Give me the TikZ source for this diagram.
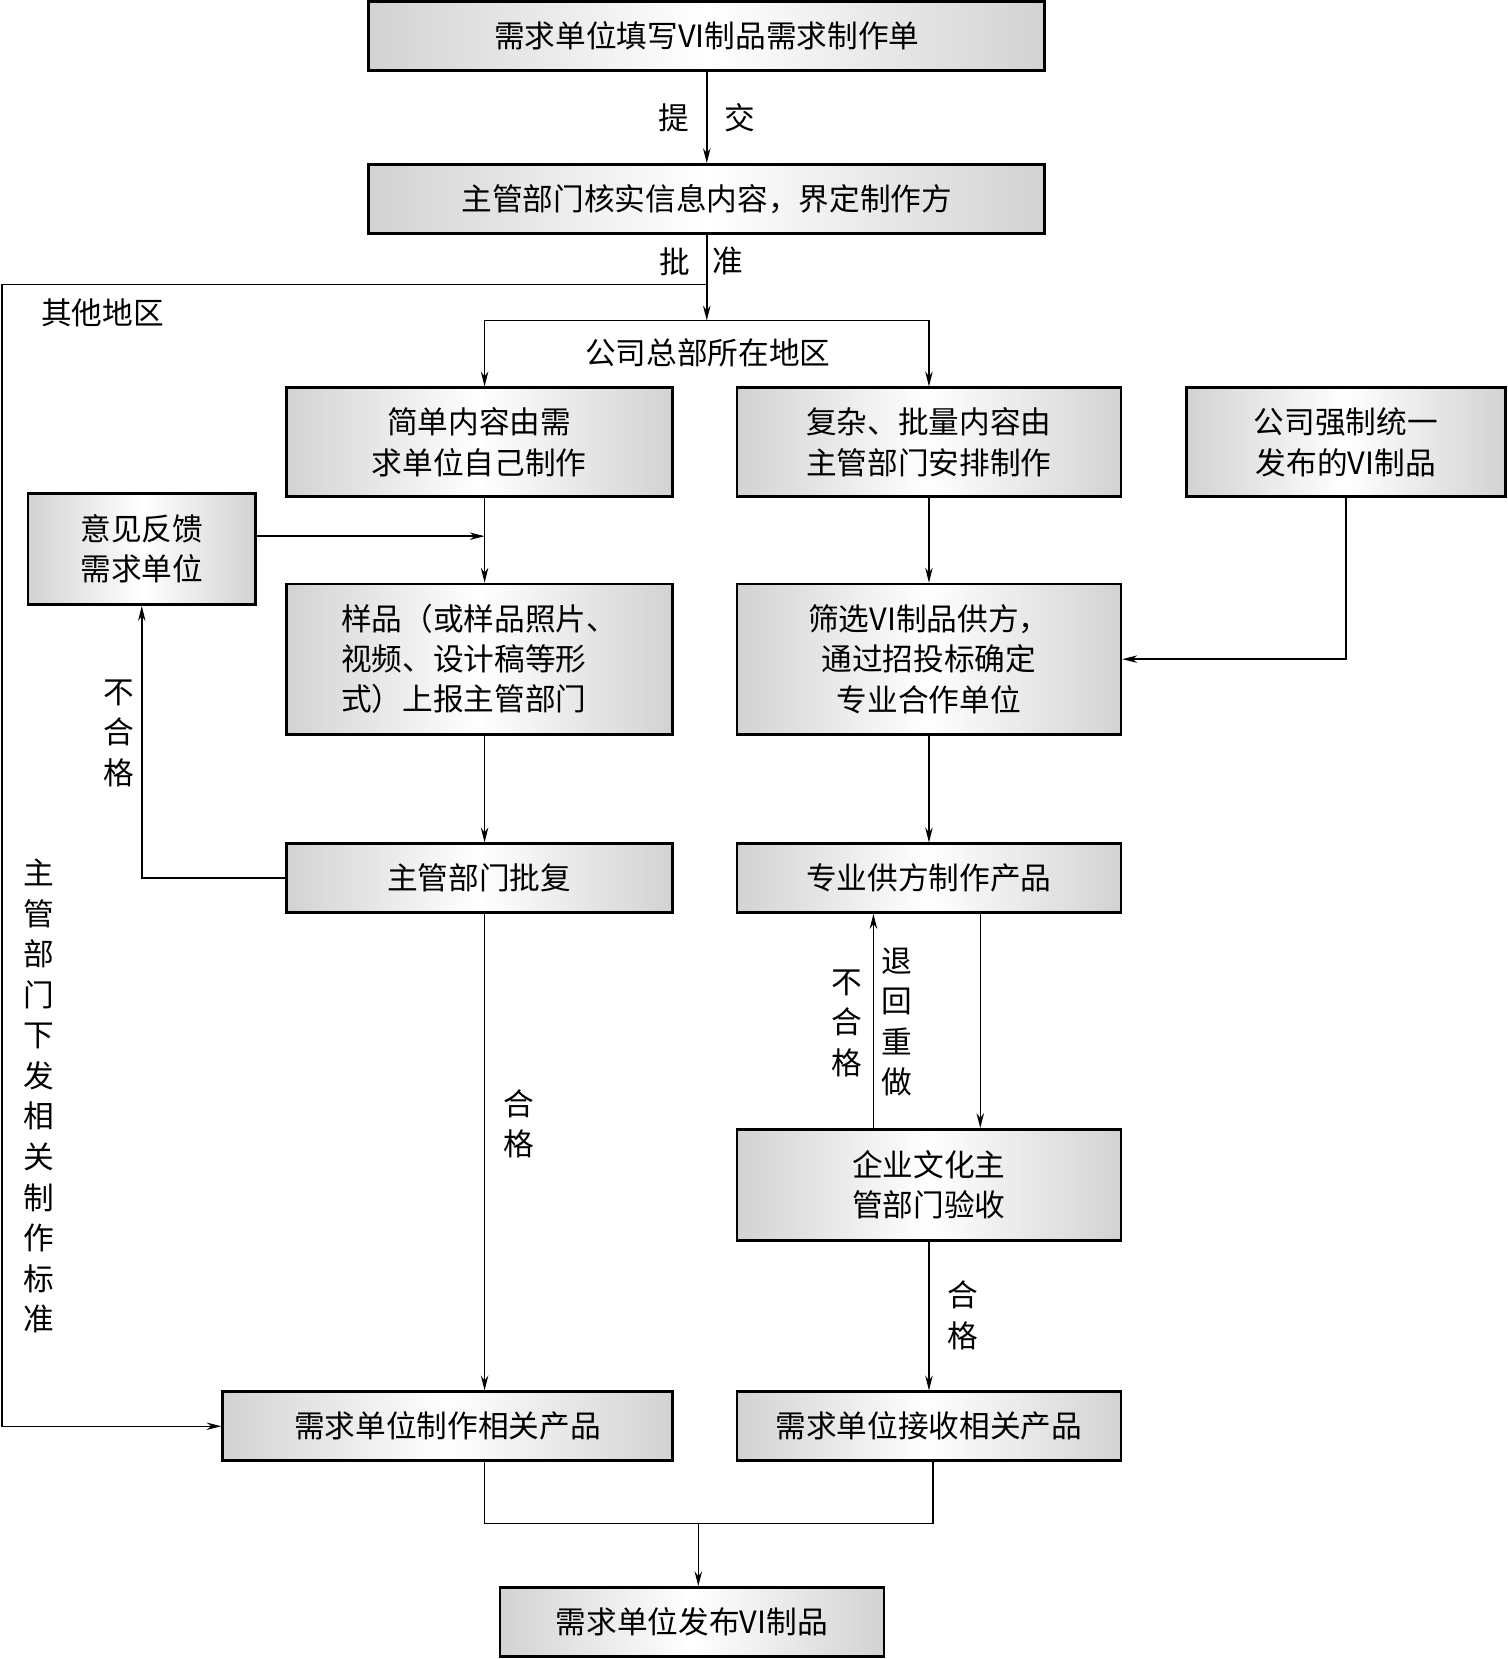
\documentclass[tikz,border=0pt]{standalone}
\usepackage{fontspec}
\setmainfont{Noto Sans CJK SC}
\usetikzlibrary{arrows.meta,positioning,calc}

\tikzset{
  flowbox/.style 2 args={draw, line width=1.5pt, left color=gray!35, right color=gray!35, middle color=white,
    align=center, inner sep=0pt, minimum width=#1, minimum height=#2,
    font=\fontsize{16.5pt}{21.6pt}\selectfont},
  lbl/.style={inner sep=0pt, align=center, font=\fontsize{16.5pt}{21.6pt}\selectfont},
  vlbl/.style={inner sep=0pt, align=center, font=\fontsize{16.5pt}{21.8pt}\selectfont},
  arr/.style={line width=0.8pt, -{Stealth[length=8pt,width=4pt]}},
  ln/.style={line width=0.8pt}
}

\begin{document}
\begin{tikzpicture}[x=0.02cm, y=-0.02cm]
  \useasboundingbox (0,0) rectangle (1425,1568);

  \node[flowbox={12.78cm}{1.3cm}] (fill) at (668,34) {需求单位填写VI制品需求制作单};
  \node[flowbox={12.78cm}{1.3cm}] (check) at (668,188) {主管部门核实信息内容，界定制作方};
  \node[flowbox={7.3cm}{2.06cm}] (simple) at (453,418) {简单内容由需\\求单位自己制作};
  \node[flowbox={7.26cm}{2.06cm}] (complex) at (878,418) {复杂、批量内容由\\主管部门安排制作};
  \node[flowbox={6.04cm}{2.06cm}] (unified) at (1272,418) {公司强制统一\\发布的VI制品};
  \node[flowbox={4.3cm}{2.1cm}] (feedback) at (134,519) {意见反馈\\需求单位};
  \node[flowbox={7.3cm}{2.84cm}, align=left] (sample) at (453,623) {样品（或样品照片、\\视频、设计稿等形\\式）上报主管部门};
  \node[flowbox={7.26cm}{2.84cm}] (select) at (878,623) {筛选VI制品供方，\\通过招投标确定\\专业合作单位};
  \node[flowbox={7.3cm}{1.3cm}] (reply) at (453,830) {主管部门批复};
  \node[flowbox={7.26cm}{1.3cm}] (supplier) at (878,830) {专业供方制作产品};
  \node[flowbox={7.26cm}{2.1cm}] (accept) at (878,1120) {企业文化主\\管部门验收};
  \node[flowbox={8.5cm}{1.3cm}] (make) at (423,1348) {需求单位制作相关产品};
  \node[flowbox={7.26cm}{1.3cm}] (receive) at (878,1348) {需求单位接收相关产品};
  \node[flowbox={7.26cm}{1.3cm}] (publish) at (654,1533) {需求单位发布VI制品};

  \coordinate (hq) at (668,303);
  \coordinate (other) at (668,269);
  \coordinate (edge) at (2,269);
  \coordinate (join) at (660,1440);
  \coordinate (lcol) at (458,0);
  \coordinate (mid) at ($(simple.south)!0.45!(sample.north)$);

  \draw[arr] (fill) -- (check)
    node[lbl, midway, left=0.32cm] (submit1) {提}
    node[lbl, midway, right=0.32cm] (submit2) {交};
  \draw[arr] (check) -- (hq);
  \node[lbl] (appr1) at (638,247) {批};
  \node[lbl] (appr2) at (688,247) {准};
  \draw[arr] (hq) -| (simple.north -| lcol);
  \draw[arr] (hq) -| (complex);
  \node[lbl] (hqarea) at (669,333) {公司总部所在地区};

  \draw[arr] (other) -- (edge) |- (make);
  \node[lbl] (otherarea) at (97,296) {其他地区};
  \node[vlbl] (standard) at (37,1036) {主\\管\\部\\门\\下\\发\\相\\关\\制\\作\\标\\准};

  \draw[arr] (simple.south -| lcol) -- (sample.north -| lcol);
  \draw[arr] (feedback.east |- mid) -- (mid -| lcol);
  \draw[arr] (sample.south -| lcol) -- (reply.north -| lcol);
  \draw[arr] (reply.west) -| (feedback.south);
  \node[vlbl] (fail1) at (112,693) {不\\合\\格};
  \draw[arr] (reply.south -| lcol) -- (make.north -| lcol);
  \node[vlbl] (pass1) at (490,1062) {合\\格};

  \draw[arr] (complex) -- (select);
  \draw[arr] (unified.south) |- (select.east);
  \draw[arr] (select) -- (supplier);
  \draw[arr] ([xshift=0.97cm]supplier.south) -- ([xshift=0.97cm]accept.north);
  \draw[arr] ([xshift=-1.05cm]accept.north) -- ([xshift=-1.05cm]supplier.south);
  \node[vlbl] (fail2) at (800,967) {不\\合\\格};
  \node[vlbl] (redo) at (848,966) {退\\回\\重\\做};
  \draw[arr] (accept) -- (receive);
  \node[vlbl] (pass2) at (910,1243) {合\\格};

  \draw[ln] (make.south -| lcol) |- (join) -| ([xshift=0.08cm]receive.south);
  \draw[arr] (join) -- (join |- publish.north);
\end{tikzpicture}
\end{document}
